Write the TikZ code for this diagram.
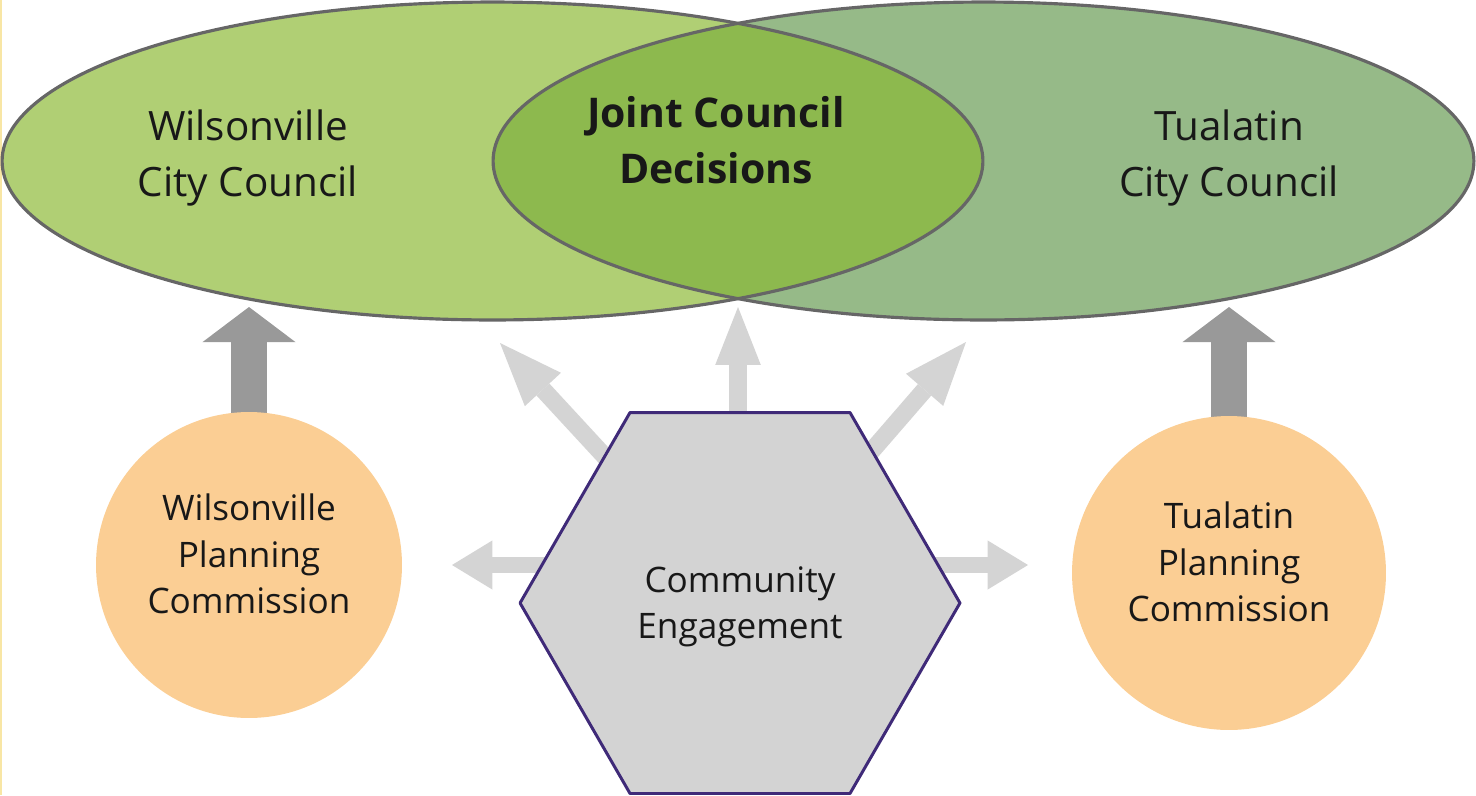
\documentclass[tikz,border=0pt]{standalone}
\usepackage{fontspec}
\setmainfont{Open Sans}
\usetikzlibrary{shapes.geometric, arrows.meta, backgrounds}

\definecolor{wgreen}{RGB}{176,207,116}
\definecolor{tgreen}{RGB}{150,186,136}
\definecolor{jgreen}{RGB}{141,185,78}
\definecolor{ellline}{RGB}{102,102,102}
\definecolor{planorange}{RGB}{251,206,148}
\definecolor{hexgray}{RGB}{211,211,211}
\definecolor{hexline}{RGB}{63,42,120}
\definecolor{lightarr}{RGB}{212,212,212}
\definecolor{darkarr}{RGB}{153,153,153}
\definecolor{inktext}{RGB}{24,24,24}
\definecolor{edgeyellow}{RGB}{248,230,165}

\begin{document}
\begin{tikzpicture}[x=0.02cm, y=-0.02cm, line join=round,
    council/.style={ellipse, minimum width=19.62cm, minimum height=6.36cm, inner sep=0pt},
    councillabel/.style={align=center, text=inktext, font=\fontsize{23}{31.7}\selectfont},
    planning/.style={circle, fill=planorange, inner sep=0pt},
    planlabel/.style={align=center, text=inktext, font=\fontsize{20}{26.4}\selectfont},
    lightarrow/.style={lightarr, line width=10pt, -{Triangle[width=28pt, length=36pt, line width=0pt]}},
    sidearrow/.style={lightarr, line width=9pt, -{Triangle[width=28pt, length=23pt, line width=0pt]}},
    darkarrow/.style={darkarr, line width=20pt, -{Triangle[width=53pt, length=20pt, line width=0pt]}}
  ]

  \useasboundingbox (0,0) rectangle (1476,795);
  \fill[edgeyellow] (0,0) rectangle (2,795);

  % ── City councils (Venn) ─────────────────────────────────────────────────────

  \node[council, fill=wgreen] (wcc) at (492.5,161) {};
  \node[council, fill=tgreen] (tcc) at (983.5,161) {};

  % Overlap
  \begin{scope}
    \clip (wcc.center) ellipse [x radius=9.81cm, y radius=3.18cm];
    \fill[jgreen] (tcc.center) ellipse [x radius=9.81cm, y radius=3.18cm];
  \end{scope}
  \draw[ellline, line width=1.8pt] (wcc.center) ellipse [x radius=9.81cm, y radius=3.18cm];
  \draw[ellline, line width=1.8pt] (tcc.center) ellipse [x radius=9.81cm, y radius=3.18cm];

  \node[councillabel] (wtext) at (248,158) {Wilsonville\\City Council};
  \node[councillabel] (ttext) at (1229,158) {Tualatin\\City Council};
  \node[councillabel, font=\fontsize{23.3}{31.7}\selectfont\bfseries] (jtext) at (716,140)
    {Joint Council\\Decisions};

  % ── Planning commissions ─────────────────────────────────────────────────────

  \node[planning, minimum size=6.12cm] (wpc) at (249,565) {};
  \node[planning, minimum size=6.28cm] (tpc) at (1229,573) {};
  \node[planlabel] (wpctext) at (249,554) {Wilsonville\\Planning\\Commission};
  \node[planlabel] (tpctext) at (1229,562) {Tualatin\\Planning\\Commission};

  % ── Community engagement ─────────────────────────────────────────────────────

  \node[regular polygon, regular polygon sides=6, minimum size=8.8cm, inner sep=0pt,
        fill=hexgray, draw=hexline, line width=1.7pt] (ce) at (740,603) {};
  \node[planlabel] (cetext) at (740,607) {Community\\Engagement};

  % Arrow tips
  \coordinate (ut)  at (738,307);
  \coordinate (ult) at (500,343);
  \coordinate (urt) at (966,342);
  \coordinate (lt)  at (452,565);
  \coordinate (rt)  at (1028,565);
  \coordinate (wtip) at (249,307);
  \coordinate (ttip) at (1229,307);

  \begin{scope}[on background layer]
    \draw[lightarrow, -{Triangle[width=26pt, length=33pt, line width=0pt]}] (ut |- ce.center) -- (ut);
    \draw[lightarrow] (ce.center) -- (ult);
    \draw[lightarrow] (ce.center) -- (urt);
    \draw[sidearrow] (ce.center |- lt) -- (lt);
    \draw[sidearrow] (ce.center |- rt) -- (rt);
    \draw[darkarrow] (wpc.center) -- (wtip);
    \draw[darkarrow] (tpc.center) -- (ttip);
  \end{scope}

\end{tikzpicture}
\end{document}
